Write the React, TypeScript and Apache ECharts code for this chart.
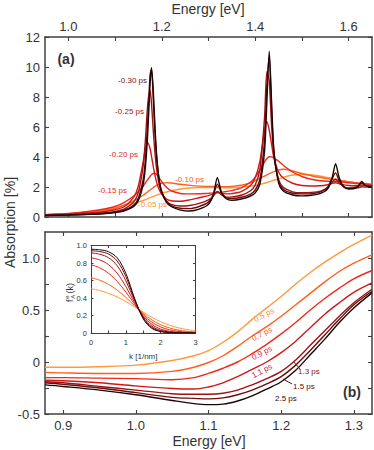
import React, { useEffect, useRef } from 'react';
import * as echarts from 'echarts';

const FONT = '"Liberation Sans", Arial, sans-serif';
const AX = '#404040';
const TXT = '#333333';

// ---------- Panel (a): absorption vs energy ----------
const ENERGY_A = [0.95, 1.00, 1.05, 1.08, 1.10, 1.12, 1.14, 1.15, 1.16, 1.165, 1.17, 1.175, 1.178, 1.182, 1.186, 1.19, 1.195, 1.20, 1.21, 1.22, 1.24, 1.26, 1.28, 1.30, 1.31, 1.319, 1.328, 1.338, 1.35, 1.37, 1.39, 1.40, 1.41, 1.42, 1.425, 1.43, 1.435, 1.44, 1.45, 1.46, 1.48, 1.50, 1.52, 1.54, 1.555, 1.565, 1.572, 1.58, 1.59, 1.60, 1.61, 1.62, 1.628, 1.635, 1.645, 1.65];
const ABS_REF = [0.1, 0.13, 0.18, 0.23, 0.3, 0.41, 0.71, 1.11, 2.14, 3.35, 5.63, 8.94, 9.95, 8.3, 5.64, 3.72, 2.35, 1.64, 0.97, 0.7, 0.46, 0.4, 0.52, 0.85, 1.45, 2.62, 1.62, 1.22, 1.12, 1.2, 1.4, 1.61, 2.2, 4.4, 7.71, 11.06, 7.72, 4.43, 2.28, 1.73, 1.47, 1.41, 1.45, 1.58, 1.87, 2.66, 3.56, 2.6, 1.99, 1.87, 1.88, 2.03, 2.37, 2.11, 2.0, 1.99];
const ABS_M030 = [0.11, 0.14, 0.19, 0.25, 0.32, 0.45, 0.79, 1.27, 2.48, 3.9, 6.5, 9.5, 9.85, 7.7, 5.3, 3.6, 2.35, 1.7, 1.05, 0.76, 0.58, 0.56, 0.7, 0.99, 1.44, 2.19, 1.6, 1.28, 1.24, 1.32, 1.53, 1.8, 2.51, 5.17, 8.73, 10.69, 7.12, 4.33, 2.39, 1.85, 1.58, 1.54, 1.56, 1.68, 1.98, 2.58, 2.94, 2.4, 2.02, 1.92, 1.95, 2.06, 2.26, 2.13, 2.04, 2.05];
const ABS_M025 = [0.12, 0.15, 0.21, 0.28, 0.37, 0.54, 1.01, 1.66, 3.39, 5.18, 7.53, 8.43, 7.55, 5.67, 4.06, 2.95, 2.09, 1.58, 1.07, 0.84, 0.73, 0.77, 0.91, 1.14, 1.39, 1.7, 1.48, 1.32, 1.34, 1.45, 1.75, 2.13, 3.17, 6.66, 9.7, 9.06, 6.14, 4.13, 2.5, 1.98, 1.68, 1.62, 1.64, 1.73, 1.96, 2.34, 2.52, 2.26, 2.01, 1.92, 1.92, 1.94, 2.02, 1.99, 2.02, 2.03];
const ABS_M020 = [0.14, 0.19, 0.28, 0.37, 0.48, 0.7, 1.32, 2.11, 3.64, 4.53, 4.95, 4.55, 4.05, 3.32, 2.69, 2.21, 1.78, 1.52, 1.2, 1.08, 1.05, 1.14, 1.28, 1.42, 1.54, 1.65, 1.6, 1.54, 1.56, 1.69, 2.1, 2.61, 3.71, 5.79, 6.35, 5.8, 4.85, 3.95, 3.0, 2.6, 2.25, 2.1, 2.07, 2.08, 2.15, 2.25, 2.28, 2.22, 2.14, 2.1, 2.08, 2.08, 2.09, 2.09, 2.1, 2.1];
const ABS_M015 = [0.16, 0.24, 0.4, 0.55, 0.7, 0.98, 1.4, 1.7, 2.05, 2.28, 2.5, 2.72, 2.82, 2.9, 2.9, 2.79, 2.58, 2.35, 1.98, 1.75, 1.57, 1.54, 1.55, 1.58, 1.6, 1.62, 1.66, 1.7, 1.76, 1.94, 2.33, 2.66, 3.13, 3.67, 3.9, 4.02, 4.01, 3.92, 3.72, 3.45, 3.0, 2.7, 2.52, 2.42, 2.38, 2.37, 2.37, 2.35, 2.32, 2.28, 2.25, 2.22, 2.2, 2.18, 2.15, 2.14];
const ABS_M010 = [0.15, 0.21, 0.3, 0.45, 0.58, 0.8, 1.08, 1.25, 1.45, 1.56, 1.68, 1.8, 1.87, 1.97, 2.06, 2.12, 2.2, 2.25, 2.29, 2.27, 2.18, 2.11, 2.06, 2.04, 2.03, 2.02, 2.02, 2.02, 2.04, 2.12, 2.28, 2.42, 2.57, 2.73, 2.81, 2.89, 2.96, 3.02, 3.13, 3.18, 3.07, 2.9, 2.75, 2.63, 2.56, 2.51, 2.48, 2.44, 2.4, 2.35, 2.31, 2.28, 2.26, 2.24, 2.21, 2.2];
const ABS_M005 = [0.15, 0.22, 0.35, 0.48, 0.6, 0.75, 0.9, 1.0, 1.1, 1.16, 1.22, 1.29, 1.32, 1.37, 1.42, 1.47, 1.53, 1.58, 1.67, 1.75, 1.87, 1.93, 1.96, 1.96, 1.955, 1.95, 1.945, 1.94, 1.95, 1.99, 2.06, 2.1, 2.17, 2.25, 2.3, 2.35, 2.4, 2.45, 2.55, 2.65, 2.8, 2.85, 2.82, 2.72, 2.63, 2.57, 2.53, 2.47, 2.41, 2.35, 2.3, 2.25, 2.22, 2.2, 2.17, 2.15];
const DELAYS_A = ['-0.05 ps', '-0.10 ps', '-0.15 ps', '-0.20 ps', '-0.25 ps', '-0.30 ps', 'reference'];
const SERIES_A = [ABS_M005, ABS_M010, ABS_M015, ABS_M020, ABS_M025, ABS_M030, ABS_REF];
const TOP_TICKS = [1.0, 1.1, 1.2, 1.3, 1.4, 1.5, 1.6];
const TOP_LABELS = [1.0, 1.2, 1.4, 1.6];

// ---------- Panel (b) ----------
const ENERGY_B = [0.875, 0.90, 0.95, 1.00, 1.05, 1.08, 1.10, 1.12, 1.14, 1.16, 1.18, 1.20, 1.22, 1.24, 1.26, 1.28, 1.30, 1.325];
const B_05 = [-0.05, -0.05, -0.045, -0.03, 0.015, 0.06, 0.11, 0.19, 0.29, 0.41, 0.52, 0.63, 0.75, 0.86, 0.96, 1.05, 1.13, 1.22];
const B_07 = [-0.1, -0.105, -0.11, -0.11, -0.09, -0.05, -0.005, 0.06, 0.15, 0.25, 0.34, 0.44, 0.55, 0.66, 0.77, 0.87, 0.95, 1.03];
const B_09 = [-0.15, -0.15, -0.155, -0.16, -0.17, -0.15, -0.11, -0.06, 0.0, 0.08, 0.17, 0.27, 0.38, 0.5, 0.61, 0.71, 0.8, 0.88];
const B_11 = [-0.175, -0.18, -0.2, -0.23, -0.255, -0.26, -0.24, -0.2, -0.14, -0.07, 0.0, 0.09, 0.2, 0.33, 0.46, 0.57, 0.67, 0.76];
const B_13 = [-0.19, -0.2, -0.235, -0.27, -0.305, -0.31, -0.31, -0.3, -0.27, -0.22, -0.16, -0.09, 0.02, 0.16, 0.3, 0.44, 0.57, 0.7];
const B_15 = [-0.2, -0.215, -0.25, -0.295, -0.34, -0.35, -0.355, -0.345, -0.315, -0.27, -0.21, -0.14, -0.03, 0.11, 0.26, 0.41, 0.55, 0.68];
const B_25 = [-0.22, -0.235, -0.27, -0.315, -0.37, -0.4, -0.41, -0.405, -0.375, -0.325, -0.26, -0.19, -0.08, 0.07, 0.22, 0.38, 0.52, 0.665];
const DELAYS_B = ['0.5 ps', '0.7 ps', '0.9 ps', '1.1 ps', '1.3 ps', '1.5 ps', '2.5 ps'];
const SERIES_B = [B_05, B_07, B_09, B_11, B_13, B_15, B_25];
const B_X_TICKS = [0.9, 1.0, 1.1, 1.2, 1.3];
const B_Y_TICKS = [-0.5, -0.25, 0, 0.25, 0.5, 0.75, 1.0];
const B_Y_LABELS = [-0.5, 0, 0.5, 1.0];

// ---------- Inset: distribution vs k ----------
const K_INSET = [0, 0.25, 0.5, 0.75, 1.0, 1.25, 1.5, 1.75, 2.0, 2.25, 2.5, 2.75, 3.0];
const F_05 = [0.506, 0.485, 0.453, 0.412, 0.36, 0.3, 0.238, 0.179, 0.129, 0.09, 0.06, 0.04, 0.026];
const F_07 = [0.634, 0.604, 0.557, 0.491, 0.407, 0.313, 0.224, 0.149, 0.094, 0.058, 0.034, 0.02, 0.012];
const F_09 = [0.78, 0.745, 0.685, 0.59, 0.468, 0.33, 0.21, 0.123, 0.069, 0.037, 0.02, 0.011, 0.006];
const F_11 = [0.86, 0.835, 0.782, 0.684, 0.531, 0.349, 0.196, 0.098, 0.045, 0.02, 0.009, 0.004, 0.002];
const F_13 = [0.916, 0.9, 0.861, 0.77, 0.597, 0.371, 0.183, 0.077, 0.03, 0.011, 0.004, 0.002, 0.001];
const F_15 = [0.94, 0.931, 0.903, 0.823, 0.646, 0.388, 0.172, 0.063, 0.021, 0.007, 0.002, 0.001, 0.0];
const F_25 = [0.957, 0.951, 0.929, 0.86, 0.682, 0.397, 0.161, 0.052, 0.016, 0.005, 0.002, 0.001, 0.0];
const SERIES_INSET = [F_05, F_07, F_09, F_11, F_13, F_15, F_25];

// colours: orange -> red -> near black
const COLORS = ['#ff9a38', '#ff5e1c', '#f0281a', '#d21616', '#a01212', '#6a0d0d', '#1e0505'];
const LABEL_COLORS_A = ['#ff9032', '#ff581e', '#ee2a1e', '#d21c1c', '#a51414', '#7d1010'];
const LABEL_COLORS_B = ['#ff8c2a', '#ff5522', '#e8202a', '#c21a1a', '#8a1515', '#5e0e0e', '#3a0707'];

const pairs = (xs: number[], ys: number[]) => xs.map((x, i) => [x, ys[i]]);

function valueAxis(o: any) {
  const { labels, ticks, labelSize, tickLen, lineWidth, showLabel, fmt, margin, ...rest } = o;
  return {
    type: 'value',
    axisLine: { show: true, onZero: false, lineStyle: { color: AX, width: lineWidth ?? 1.5 } },
    axisTick: {
      show: true, inside: true, length: tickLen ?? 4,
      ...(ticks ? { customValues: ticks } : {}),
      lineStyle: { color: AX, width: 1.1 },
    },
    axisLabel: {
      show: showLabel !== false,
      ...(labels ? { customValues: labels } : {}),
      formatter: fmt,
      margin: margin ?? 5,
      fontSize: labelSize ?? 13,
      color: TXT,
      fontFamily: FONT,
    },
    splitLine: { show: false },
    ...rest,
  };
}

const fmt1 = (v: number) => (v === 0 ? '0' : v.toFixed(1));

function buildOption() {
  const series: any[] = [];
  SERIES_A.forEach((ys, i) => {
    series.push({
      name: DELAYS_A[i], type: 'line', xAxisIndex: 0, yAxisIndex: 0,
      data: pairs(ENERGY_A, ys), showSymbol: false, smooth: 0.25, silent: true,
      lineStyle: { color: COLORS[i], width: 1.4 }, itemStyle: { color: COLORS[i] }, z: 2 + i,
    });
  });
  SERIES_B.forEach((ys, i) => {
    series.push({
      name: DELAYS_B[i], type: 'line', xAxisIndex: 2, yAxisIndex: 2,
      data: pairs(ENERGY_B, ys), showSymbol: false, smooth: 0.35, silent: true,
      lineStyle: { color: COLORS[i], width: 1.4 }, itemStyle: { color: COLORS[i] }, z: 2 + i,
    });
  });
  SERIES_INSET.forEach((ys, i) => {
    series.push({
      name: 'inset ' + DELAYS_B[i], type: 'line', xAxisIndex: 4, yAxisIndex: 4,
      data: pairs(K_INSET, ys), showSymbol: false, smooth: 0.35, silent: true,
      lineStyle: { color: COLORS[i], width: 1 }, itemStyle: { color: COLORS[i] }, z: 2 + i,
    });
  });

  const txt = (text: string, x: number, y: number, extra: any = {}, rotation = 0) => ({
    type: 'text', x, y, rotation, z: 100,
    style: { text, fill: TXT, fontSize: 14, fontFamily: FONT, align: 'center', verticalAlign: 'middle', ...extra },
  });

  const labelA = [
    { x: 167, y: 204.5 },
    { x: 204, y: 179.5 },
    { x: 127, y: 190.5 },
    { x: 138, y: 154.5 },
    { x: 144, y: 111.5 },
    { x: 147, y: 80 },
  ];
  const labelB = [
    { x: 264, y: 315, r: 0.47, align: 'center' },
    { x: 262, y: 334, r: 0.47, align: 'center' },
    { x: 262, y: 353, r: 0.47, align: 'center' },
    { x: 262, y: 371, r: 0.47, align: 'center' },
    { x: 298, y: 371, r: 0, align: 'left' },
    { x: 293, y: 386, r: 0, align: 'left' },
    { x: 275, y: 398, r: 0, align: 'left' },
  ];

  const graphic: any[] = [
    txt('Energy [eV]', 208, 9),
    txt('Energy [eV]', 209, 441),
    txt('Absorption [%]', 10, 222.5, {}, Math.PI / 2),
    txt('(a)', 66, 59, { fontWeight: 'bold' }),
    txt('(b)', 352, 392, { fontWeight: 'bold' }),
    ...labelA.map((p, i) => txt(DELAYS_A[i], p.x, p.y, { fontSize: 8, fill: LABEL_COLORS_A[i], align: 'right' })),
    ...labelB.map((p, i) => txt(DELAYS_B[i], p.x, p.y, { fontSize: 8, fill: LABEL_COLORS_B[i], align: p.align }, p.r)),
    { type: 'line', z: 100, shape: { x1: 300, y1: 369, x2: 294, y2: 362 }, style: { stroke: LABEL_COLORS_B[4], lineWidth: 1 } },
    { type: 'line', z: 100, shape: { x1: 292, y1: 384, x2: 283, y2: 379 }, style: { stroke: LABEL_COLORS_B[5], lineWidth: 1 } },
    {
      type: 'group', x: 70, y: 289, rotation: Math.PI / 2, z: 100,
      children: [
        { type: 'text', x: -13, y: 0, style: { text: 'f', fill: TXT, fontSize: 9, fontFamily: FONT, align: 'left', verticalAlign: 'middle' } },
        { type: 'text', x: -9.8, y: -3.2, style: { text: 'e', fill: TXT, fontSize: 6, fontFamily: FONT, align: 'left', verticalAlign: 'middle' } },
        { type: 'text', x: -9.8, y: 3.2, style: { text: 'A', fill: TXT, fontSize: 6, fontFamily: FONT, align: 'left', verticalAlign: 'middle' } },
        { type: 'text', x: -4.5, y: 0, style: { text: '(k)', fill: TXT, fontSize: 9, fontFamily: FONT, align: 'left', verticalAlign: 'middle' } },
      ],
    },
  ];

  return {
    animation: false,
    backgroundColor: '#ffffff',
    grid: [
      { left: 45, top: 37, width: 327, height: 180, outerBoundsMode: 'none' },
      { left: 45, top: 232, width: 327, height: 182, outerBoundsMode: 'none' },
      { left: 91, top: 245.5, width: 104.5, height: 87.5, outerBoundsMode: 'none', show: true, backgroundColor: '#ffffff', borderWidth: 0 },
    ],
    xAxis: [
      valueAxis({ gridIndex: 0, position: 'top', min: 0.95, max: 1.65, ticks: TOP_TICKS, labels: TOP_LABELS, fmt: (v: number) => v.toFixed(1), margin: 4 }),
      valueAxis({ gridIndex: 0, position: 'bottom', min: 0.95, max: 1.65, ticks: TOP_TICKS, showLabel: false }),
      valueAxis({ gridIndex: 1, position: 'bottom', min: 0.875, max: 1.325, ticks: B_X_TICKS, labels: B_X_TICKS, fmt: (v: number) => v.toFixed(1), margin: 5 }),
      valueAxis({ gridIndex: 1, position: 'top', min: 0.875, max: 1.325, ticks: B_X_TICKS, showLabel: false }),
      valueAxis({ gridIndex: 2, position: 'bottom', min: 0, max: 3, interval: 0.5, labels: [0, 1, 2, 3], fmt: (v: number) => String(v), labelSize: 7.5, tickLen: 2.5, lineWidth: 1, margin: 5,
        name: 'k [1/nm]', nameLocation: 'middle', nameGap: 19, nameTextStyle: { fontSize: 8, color: TXT, fontFamily: FONT } }),
      valueAxis({ gridIndex: 2, position: 'top', min: 0, max: 3, interval: 0.5, showLabel: false, tickLen: 2.5, lineWidth: 1 }),
    ],
    yAxis: [
      valueAxis({ gridIndex: 0, position: 'left', min: 0, max: 12, interval: 2, fmt: (v: number) => String(v) }),
      valueAxis({ gridIndex: 0, position: 'right', min: 0, max: 12, interval: 2, showLabel: false }),
      valueAxis({ gridIndex: 1, position: 'left', min: -0.5, max: 1.25, ticks: B_Y_TICKS, labels: B_Y_LABELS, fmt: fmt1 }),
      valueAxis({ gridIndex: 1, position: 'right', min: -0.5, max: 1.25, ticks: B_Y_TICKS, showLabel: false }),
      valueAxis({ gridIndex: 2, position: 'left', min: 0, max: 1, interval: 0.2, fmt: fmt1, labelSize: 7.5, tickLen: 2.5, lineWidth: 1, margin: 4 }),
      valueAxis({ gridIndex: 2, position: 'right', min: 0, max: 1, interval: 0.2, showLabel: false, tickLen: 2.5, lineWidth: 1 }),
    ],
    series,
    graphic,
  };
}

export default function App() {
  const ref = useRef<HTMLDivElement>(null);
  useEffect(() => {
    if (!ref.current) return;
    const chart = echarts.init(ref.current, null, { renderer: 'svg' });
    chart.setOption(buildOption() as any);
    return () => chart.dispose();
  }, []);
  return (
    <div
      ref={ref}
      style={{ position: 'fixed', left: 0, top: 0, width: 374, height: 450, background: '#ffffff' }}
    />
  );
}
